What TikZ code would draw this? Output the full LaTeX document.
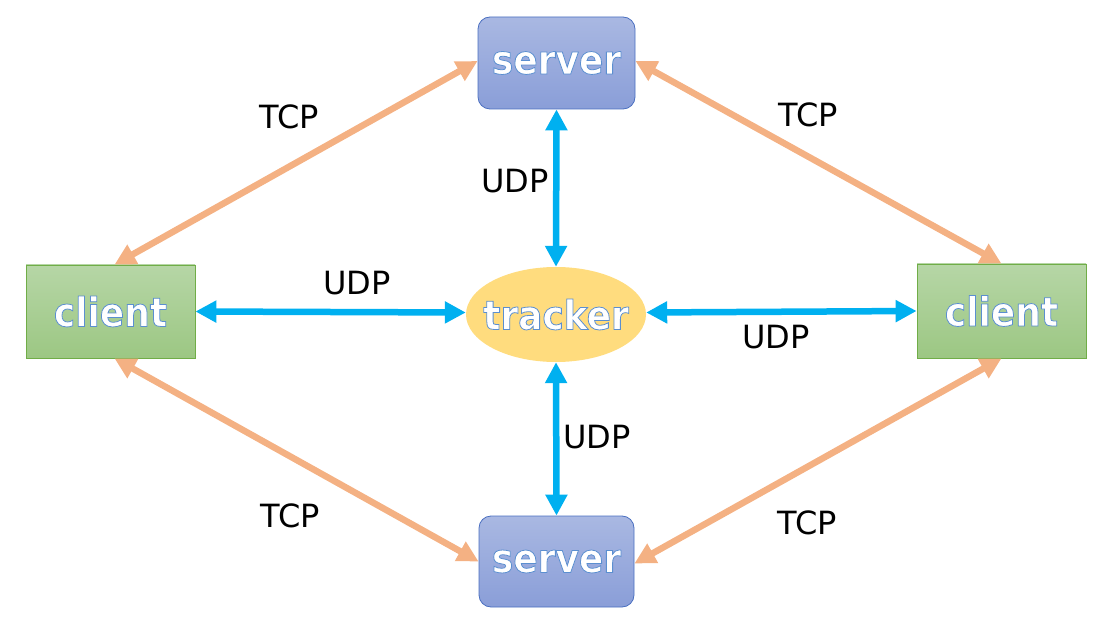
\documentclass[tikz,border=0pt]{standalone}
\usepackage{fontspec}
\setmainfont{DejaVu Sans}
\newfontfamily\boxfont[FakeBold=2]{DejaVu Sans Condensed Bold}
\usepackage{xcolor}
\usetikzlibrary{arrows.meta,shapes.geometric}
\definecolor{srvtop}{HTML}{A9B8E2}
\definecolor{srvbot}{HTML}{8A9ED8}
\definecolor{srvline}{HTML}{4A6FC0}
\definecolor{clitop}{HTML}{B6D6A6}
\definecolor{clibot}{HTML}{9CC783}
\definecolor{cliline}{HTML}{70AD47}
\definecolor{trkfill}{HTML}{FFDC7E}
\definecolor{tcpcol}{HTML}{F4B183}
\definecolor{udpcol}{HTML}{00B0F0}
\newcommand{\glowtext}[1]{{\color{white}\special{pdf:literal 0.357 0.561 0.816 RG}#1}}
\tikzset{
  boxtext/.style={font=\boxfont\fontsize{40}{48}\selectfont, text=white, inner sep=0pt},
  serverbox/.style={boxtext, rectangle, rounded corners=12pt, draw=srvline, line width=0.8pt,
    top color=srvtop, bottom color=srvbot, minimum width=157pt, minimum height=92pt},
  clientbox/.style={boxtext, rectangle, draw=cliline, line width=0.8pt,
    top color=clitop, bottom color=clibot, minimum width=169pt, minimum height=93pt},
  trackerbox/.style={ellipse, fill=trkfill, draw=none, inner sep=0pt, minimum width=180pt, minimum height=95pt},
  tcparrow/.style={draw=tcpcol, line width=6.5pt, {Triangle[length=21pt,width=21pt]}-{Triangle[length=21pt,width=21pt]}},
  udparrow/.style={draw=udpcol, line width=6.5pt, {Triangle[length=21pt,width=21pt]}-{Triangle[length=21pt,width=21pt]}},
  lbl/.style={font=\fontsize{32}{38}\selectfont, text=black, inner sep=0pt}
}
\begin{document}
\begin{tikzpicture}[x=1pt,y=-1pt]
\useasboundingbox (0,0) rectangle (1105,620);
\node[serverbox] (st) at (556.5,63) {\glowtext{server}};
\node[serverbox, minimum width=155pt, minimum height=91pt] (sb) at (556.5,561.5) {\glowtext{server}};
\node[clientbox] (cl) at (110.5,311.5) {\glowtext{client}};
\node[clientbox, minimum height=94pt] (cr) at (1001.5,311) {\glowtext{client}};
\node[trackerbox] (tr) at (556,314.5) {};
\node[boxtext] (trt) at (tr.center) {\glowtext{tracker}};

\draw[tcparrow] ([xshift=4pt]cl.north) -- ([yshift=2pt]st.west);
\draw[tcparrow] ([yshift=2pt]st.east) -- (cr.north);
\draw[tcparrow] ([xshift=4pt]cl.south) -- (sb.west);
\draw[tcparrow] ([yshift=-2pt]sb.east) -- (cr.south);

\draw[udparrow] (st.south) -- (tr.north);
\draw[udparrow] (tr.south) -- (sb.north);
\draw[udparrow] (cl.east) -- ([yshift=2pt]tr.west);
\draw[udparrow] ([yshift=2pt]tr.east) -- (cr.west);

\node[lbl] (l1) at (289,117) {TCP};
\node[lbl] (l2) at (808,115) {TCP};
\node[lbl] (l3) at (290,516) {TCP};
\node[lbl] (l4) at (807,523) {TCP};
\node[lbl] (u1) at (515,181) {UDP};
\node[lbl] (u2) at (357,283) {UDP};
\node[lbl] (u3) at (776,337) {UDP};
\node[lbl] (u4) at (597,437) {UDP};
\end{tikzpicture}
\end{document}
